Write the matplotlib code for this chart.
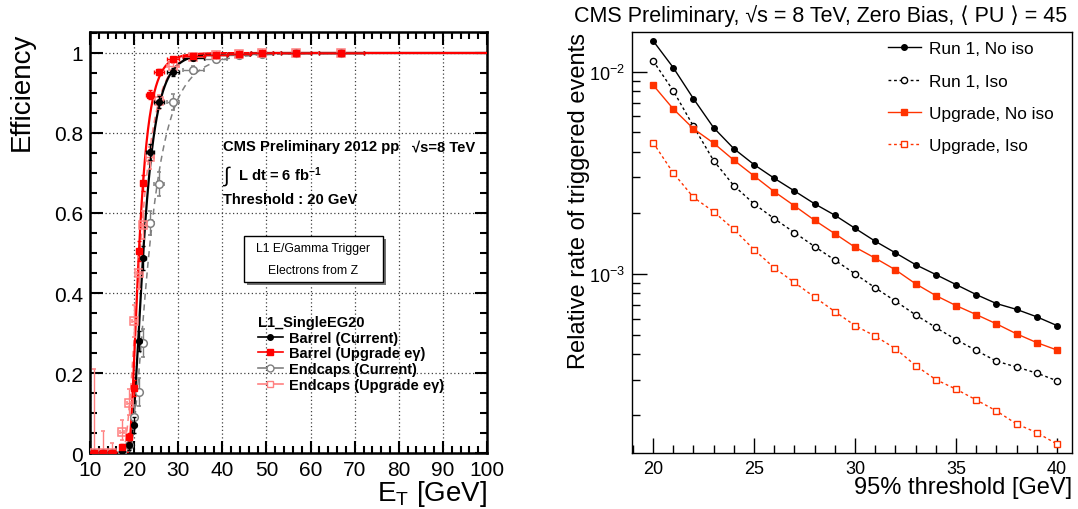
import math
import numpy as np
import matplotlib
matplotlib.use('Agg')
import matplotlib.pyplot as plt
from matplotlib.lines import Line2D
from matplotlib.patches import Rectangle
from matplotlib.ticker import MultipleLocator, LogLocator, NullFormatter, FuncFormatter

plt.rcParams['font.family'] = ['Liberation Sans', 'DejaVu Sans']
plt.rcParams['mathtext.fontset'] = 'custom'
plt.rcParams['mathtext.rm'] = 'Liberation Sans'
plt.rcParams['mathtext.it'] = 'Liberation Sans:italic'
plt.rcParams['mathtext.bf'] = 'Liberation Sans:bold'

# ---------------- left panel data : turn-on curves ----------------
et = [11, 13, 15, 17.3, 18.9, 20.0, 21.1, 22.1, 23.6, 25.6, 28.8, 33.4, 38.6, 43.8, 49.0, 56.7, 67.0]
et_err = [1, 1, 1, 0.5, 0.5, 0.5, 0.5, 0.5, 0.9, 1.1, 1.3, 2.4, 2.5, 2.5, 2.5, 3.5, 5]

barrel_cur = [0, 0, 0, 0.005, 0.02, 0.07, 0.28, 0.487, 0.752, 0.878, 0.953, 0.987, 0.995, 0.998, 0.999, 0.999, 1.0]
barrel_cur_err = [0.005, 0.005, 0.005, 0.008, 0.012, 0.02, 0.025, 0.03, 0.02, 0.015, 0.01, 0.005, 0.003, 0.002, 0.002, 0.002, 0.001]

barrel_upg = [0, 0, 0, 0.014, 0.039, 0.162, 0.504, 0.674, 0.896, 0.953, 0.984, 0.993, 0.996, 0.998, 0.999, 0.999, 1.0]
barrel_upg_err = [0.005, 0.005, 0.005, 0.008, 0.012, 0.02, 0.025, 0.02, 0.012, 0.008, 0.005, 0.003, 0.002, 0.002, 0.001, 0.001, 0.001]

endcap_cur = [0, 0, 0, 0.0, 0.02, 0.09, 0.153, 0.274, 0.575, 0.672, 0.878, 0.958, 0.985, 0.995, 0.998, 0.999, 1.0]
endcap_cur_err = [0.005, 0.005, 0.005, 0.01, 0.015, 0.03, 0.035, 0.035, 0.03, 0.03, 0.02, 0.01, 0.005, 0.003, 0.002, 0.002, 0.001]

endcap_upg = [0, 0, 0, 0.052, 0.125, 0.33, 0.45, 0.571, 0.741, 0.881, 0.968, 0.99, 0.996, 0.998, 0.999, 0.999, 1.0]
endcap_upg_lo = [0, 0, 0, 0.02, 0.03, 0.04, 0.04, 0.035, 0.03, 0.02, 0.01, 0.005, 0.003, 0.002, 0.002, 0.002, 0.001]
endcap_upg_hi = [0.21, 0.055, 0.025, 0.03, 0.035, 0.04, 0.04, 0.035, 0.025, 0.015, 0.008, 0.004, 0.003, 0.002, 0.001, 0.001, 0.0]

# fit parameters (log-normal turn-on): x0, m, s
fit_barrel_cur = [18.0, 1.40, 0.57]
fit_barrel_upg = [18.0, 1.123, 0.59]
fit_endcap_cur = [18.0, 1.68, 0.667]
fit_endcap_upg = [16.0, 1.669, 0.505]

# ---------------- right panel data : rates ----------------
thresholds = list(range(20, 41))
run1_noiso = [0.01422, 0.01047, 0.00735, 0.00528, 0.00416, 0.00347, 0.00297, 0.00257, 0.00222, 0.00195, 0.00168,
              0.00145, 0.00127, 0.00111, 0.000992, 0.000885, 0.000790, 0.000713, 0.000667, 0.000613, 0.000555]
run1_iso = [0.01132, 0.00805, 0.00537, 0.00363, 0.00273, 0.00222, 0.001875, 0.00160, 0.001365, 0.00117, 0.00100,
            0.000853, 0.000733, 0.000627, 0.000543, 0.000473, 0.000418, 0.000370, 0.000346, 0.000323, 0.000296]
upg_noiso = [0.00859, 0.00654, 0.00522, 0.00443, 0.00365, 0.00305, 0.00255, 0.00217, 0.00184, 0.00158, 0.001355,
             0.001196, 0.001047, 0.000893, 0.000781, 0.000697, 0.000629, 0.000566, 0.000505, 0.000457, 0.000420]
upg_iso = [0.00446, 0.003155, 0.00239, 0.00203, 0.00166, 0.001318, 0.001071, 0.000906, 0.000767, 0.000651, 0.000555,
           0.000492, 0.000427, 0.000352, 0.000300, 0.000269, 0.000238, 0.000210, 0.000181, 0.000164, 0.000144]

RED = '#ff0000'
PINK = '#ff8080'
GRAY = '#808080'
ORANGE = '#ff3300'


def turn_on(x, x0, m, s):
    out = np.zeros_like(x)
    ok = x > x0
    z = (np.log(x[ok] - x0) - m) / (s * math.sqrt(2))
    out[ok] = 0.5 * (1 + np.vectorize(math.erf)(z))
    return out


fig = plt.figure(figsize=(10.78, 5.10), dpi=100)
ax1 = fig.add_axes([0.0835, 0.1098, 0.3683, 0.8255])
ax2 = fig.add_axes([0.5863, 0.1098, 0.4082, 0.8255])

# ================= left panel =================
xf = np.linspace(10, 100, 1500)
ax1.plot(xf, turn_on(xf, *fit_endcap_cur), color=GRAY, lw=1.1, ls=(0, (4, 3)), zorder=3)
ax1.plot(xf, turn_on(xf, *fit_endcap_upg), color=PINK, lw=1.1, ls=(0, (4, 3)), zorder=3)
ax1.plot(xf, turn_on(xf, *fit_barrel_cur), color='black', lw=1.6, zorder=4)
ax1.plot(xf, turn_on(xf, *fit_barrel_upg), color=RED, lw=1.6, zorder=4)

ax1.errorbar(et, endcap_cur, xerr=et_err, yerr=endcap_cur_err, fmt='o', ms=5.5, mfc='white', mec=GRAY,
             mew=1.1, ecolor=GRAY, elinewidth=1.0, capsize=1.5, zorder=5)
ax1.errorbar(et, endcap_upg, xerr=et_err, yerr=[endcap_upg_lo, endcap_upg_hi], fmt='s', ms=5.5, mfc='none',
             mec=PINK, mew=1.1, ecolor=PINK, elinewidth=1.0, capsize=1.5, zorder=5)
ax1.errorbar(et, barrel_cur, xerr=et_err, yerr=barrel_cur_err, fmt='o', ms=4.2, color='black',
             elinewidth=1.0, capsize=1.5, zorder=6)
ax1.errorbar(et, barrel_upg, xerr=et_err, yerr=barrel_upg_err, fmt='s', ms=5, color=RED,
             elinewidth=1.0, capsize=1.5, zorder=6)

ax1.set_xlim(10, 100)
ax1.set_ylim(0, 1.0525)
ax1.xaxis.set_major_locator(MultipleLocator(10))
ax1.xaxis.set_minor_locator(MultipleLocator(2))
ax1.yaxis.set_major_locator(MultipleLocator(0.2))
ax1.yaxis.set_minor_locator(MultipleLocator(0.05))
ax1.yaxis.set_major_formatter(FuncFormatter(lambda v, p: '%g' % round(v, 2)))
ax1.tick_params(which='both', direction='in', top=True, right=True, width=1.5, labelsize=15)
ax1.tick_params(which='major', length=9, pad=5)
ax1.tick_params(which='minor', length=5)
for sp in ax1.spines.values():
    sp.set_linewidth(1.8)
ax1.grid(True, which='major', ls=(0, (1, 2)), color='0.25', lw=0.9)
ax1.set_axisbelow(True)

ax1.set_xlabel(r'E$_{\mathrm{T}}$ [GeV]', fontsize=20, loc='right')
ax1.xaxis.set_label_coords(1.0, -0.06)
ax1.set_ylabel('Efficiency', fontsize=20, loc='top')
ax1.yaxis.set_label_coords(-0.14, 1.0)

# CMS labels
ax1.text(40.1, 0.7675, 'CMS Preliminary 2012 pp', fontsize=10.6, fontweight='bold', va='center', zorder=8)
ax1.text(83.0, 0.7675, '\u221as=8 TeV', fontsize=10.6, fontweight='bold', va='center', zorder=8)
ax1.text(39.9, 0.695, r'$\int$', fontsize=15, va='center', zorder=8)
ax1.text(43.5, 0.6975, r'L dt = 6 fb$^{\mathbf{-1}}$', fontsize=10.6, fontweight='bold', va='center', zorder=8)
ax1.text(40.1, 0.635, 'Threshold : 20 GeV', fontsize=10.6, fontweight='bold', va='center', zorder=8)

# pave with shadow
bx0, bx1, by0, by1 = 44.8, 76.5, 0.4275, 0.5425
ax1.add_patch(Rectangle((bx0 + 0.7, by0 - 0.008), bx1 - bx0, by1 - by0, facecolor='0.45', edgecolor='none', zorder=7))
ax1.add_patch(Rectangle((bx0, by0), bx1 - bx0, by1 - by0, facecolor='white', edgecolor='black', lw=1.0, zorder=7))
ax1.text((bx0 + bx1) / 2, 0.5125, 'L1 E/Gamma Trigger', fontsize=8.8, ha='center', va='center', zorder=8)
ax1.text((bx0 + bx1) / 2, 0.4575, 'Electrons from Z', fontsize=8.8, ha='center', va='center', zorder=8)

handles1 = [Line2D([], [], color='black', marker='o', ms=4, lw=1.2),
            Line2D([], [], color=RED, marker='s', ms=5, lw=1.2),
            Line2D([], [], color=GRAY, marker='o', ms=5, mfc='white', lw=1.2),
            Line2D([], [], color=PINK, marker='s', ms=5, mfc='white', lw=1.2)]
labels1 = ['Barrel (Current)', 'Barrel (Upgrade e\u03b3)', 'Endcaps (Current)', 'Endcaps (Upgrade e\u03b3)']
leg1 = ax1.legend(handles1, labels1, title='L1_SingleEG20', loc='upper left', bbox_to_anchor=(0.423, 0.328),
                  frameon=False, prop={'weight': 'bold', 'size': 10.5},
                  title_fontproperties={'weight': 'bold', 'size': 10.5}, alignment='left',
                  handlelength=1.7, handletextpad=0.4, labelspacing=0.12, borderpad=0, borderaxespad=0)
leg1.set_zorder(9)

# ================= right panel =================
ax2.plot(thresholds, run1_noiso, color='black', lw=1.0, marker='o', ms=4, label='Run 1, No iso')
ax2.plot(thresholds, run1_iso, color='black', lw=1.0, ls=(0, (2, 2)), marker='o', ms=4.5, mfc='white',
         mew=1.0, label='Run 1, Iso')
ax2.plot(thresholds, upg_noiso, color=ORANGE, lw=1.0, marker='s', ms=5, label='Upgrade, No iso')
ax2.plot(thresholds, upg_iso, color=ORANGE, lw=1.0, ls=(0, (2, 2)), marker='s', ms=5, mfc='white',
         mew=1.0, label='Upgrade, Iso')

ax2.set_yscale('log')
ax2.set_xlim(18.96, 40.75)
ax2.set_ylim(1.30e-4, 0.0157)
ax2.xaxis.set_major_locator(MultipleLocator(5))
ax2.xaxis.set_minor_locator(MultipleLocator(1))
ax2.yaxis.set_major_locator(LogLocator(base=10, numticks=10))
ax2.yaxis.set_minor_locator(LogLocator(base=10, subs=np.arange(2, 10), numticks=10))
ax2.yaxis.set_minor_formatter(NullFormatter())
ax2.tick_params(which='both', direction='in', width=1.0, labelsize=13)
ax2.tick_params(which='major', length=11, pad=5)
ax2.tick_params(which='minor', length=6)
for sp in ax2.spines.values():
    sp.set_linewidth(1.0)

ax2.set_xlabel('95% threshold [GeV]', fontsize=17, loc='right')
ax2.xaxis.set_label_coords(1.0, -0.055)
ax2.set_ylabel('Relative rate of triggered events', fontsize=17, loc='top')
ax2.yaxis.set_label_coords(-0.095, 1.0)

ax2.legend(loc='upper left', bbox_to_anchor=(0.582, 0.978), frameon=False, fontsize=12.4,
           handlelength=1.9, handletextpad=0.45, labelspacing=1.0, borderpad=0, borderaxespad=0)

fig.text(0.7616, 0.99, 'CMS Preliminary, \u221as = 8 TeV, Zero Bias, \u27e8 PU \u27e9 = 45',
         fontsize=15.5, ha='center', va='top')

fig.savefig('out.png', dpi=100)
